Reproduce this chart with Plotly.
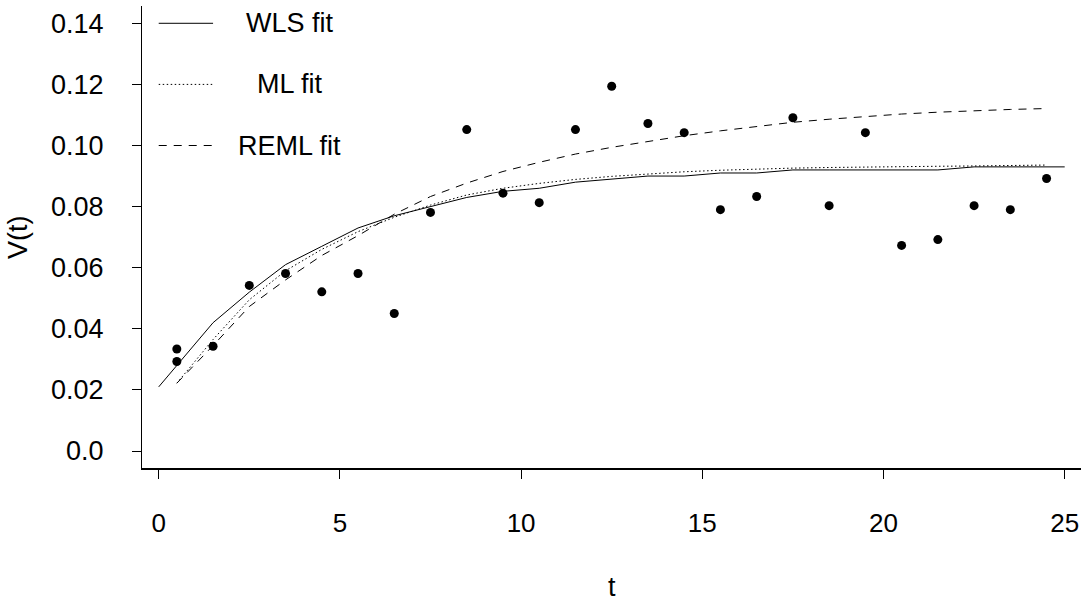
import plotly.graph_objects as go

# Observed data
obs_t = [0.5, 0.5, 1.5, 2.5, 3.5, 4.5, 5.5, 6.5, 7.5, 8.5, 9.5, 10.5, 11.5, 12.5,
         13.5, 14.5, 15.5, 16.5, 17.5, 18.5, 19.5, 20.5, 21.5, 22.5, 23.5, 24.5]
obs_v = [0.0334, 0.0293, 0.0343, 0.0542, 0.0581, 0.0521, 0.0581, 0.0450, 0.0781,
         0.1052, 0.0844, 0.0813, 0.1052, 0.1194, 0.1072, 0.1042, 0.0790, 0.0833,
         0.1091, 0.0803, 0.1042, 0.0673, 0.0692, 0.0803, 0.0790, 0.0892]

# WLS fit
wls_t = [0, 0.5, 1.5, 2.5, 3.5, 4.5, 5.5, 6.5, 7.5, 8.5, 9.5, 10.5, 11.5, 12.5,
         13.5, 14.5, 15.5, 16.5, 17.5, 18.5, 19.5, 20.5, 21.5, 22.5, 23.5, 24.5, 25]
wls_v = [0.021, 0.028, 0.042, 0.052, 0.061, 0.067, 0.073, 0.077, 0.080, 0.083,
         0.085, 0.086, 0.088, 0.089, 0.090, 0.090, 0.091, 0.091, 0.092, 0.092,
         0.092, 0.092, 0.092, 0.093, 0.093, 0.093, 0.093]

# ML fit
fit_t = [0.5, 1.5, 2.5, 3.5, 4.5, 5.5, 6.5, 7.5, 8.5, 9.5, 10.5, 11.5, 12.5,
         13.5, 14.5, 15.5, 16.5, 17.5, 18.5, 19.5, 20.5, 21.5, 22.5, 23.5, 24.5]
ml_v = [0.0222, 0.0365, 0.0495, 0.0590, 0.0660, 0.0718, 0.0765, 0.0805, 0.0838,
        0.0860, 0.0876, 0.0889, 0.0899, 0.0907, 0.0914, 0.0919, 0.0923, 0.0926,
        0.0928, 0.0930, 0.0931, 0.0932, 0.0933, 0.0934, 0.0936]

# REML fit
reml_v = [0.0222, 0.0345, 0.0473, 0.0560, 0.0640, 0.0705, 0.0775, 0.0833, 0.0877,
          0.0915, 0.0945, 0.0972, 0.0994, 0.1013, 0.1032, 0.1048, 0.1063, 0.1076,
          0.1086, 0.1095, 0.1103, 0.1109, 0.1114, 0.1118, 0.1121]

x_ticks = [0, 5, 10, 15, 20, 25]
y_ticks = [0.0, 0.02, 0.04, 0.06, 0.08, 0.10, 0.12, 0.14]
y_tick_text = ["0.0", "0.02", "0.04", "0.06", "0.08", "0.10", "0.12", "0.14"]

legend_labels = ["WLS fit", "ML fit", "REML fit"]
legend_dash = ["solid", "1.5px,2.5px", "8px,7px"]
legend_y = [0.14, 0.12, 0.10]

FONT = "Liberation Sans, Arial, Helvetica, sans-serif"

fig = go.Figure()
fig.add_trace(go.Scatter(x=wls_t, y=wls_v, mode="lines",
                         line=dict(color="black", width=1, dash="solid"),
                         showlegend=False))
fig.add_trace(go.Scatter(x=fit_t, y=ml_v, mode="lines",
                         line=dict(color="black", width=1, dash="1.5px,2.5px"),
                         showlegend=False))
fig.add_trace(go.Scatter(x=fit_t, y=reml_v, mode="lines",
                         line=dict(color="black", width=1, dash="8px,7px"),
                         showlegend=False))
fig.add_trace(go.Scatter(x=obs_t, y=obs_v, mode="markers",
                         marker=dict(color="black", size=9, line=dict(width=0)),
                         showlegend=False))

# Legend (drawn manually to match base-R layout)
for lab, dsh, ly in zip(legend_labels, legend_dash, legend_y):
    fig.add_trace(go.Scatter(x=[0, 1.5], y=[ly, ly], mode="lines",
                             line=dict(color="black", width=1, dash=dsh),
                             showlegend=False, hoverinfo="skip"))
    fig.add_annotation(x=3.62, y=ly, text=lab, showarrow=False,
                       xanchor="center", yanchor="middle",
                       font=dict(family=FONT, size=27, color="black"))

# Axis titles
fig.add_annotation(xref="paper", yref="paper", x=0.5, y=0, yshift=-119,
                   text="t", showarrow=False, xanchor="center", yanchor="middle",
                   font=dict(family=FONT, size=27, color="black"))
fig.add_annotation(xref="paper", yref="paper", x=0, y=0.5, xshift=-124,
                   text="V(t)", showarrow=False, xanchor="center", yanchor="middle",
                   textangle=-90,
                   font=dict(family=FONT, size=27, color="black"))

fig.update_layout(
    width=1086, height=602,
    margin=dict(l=142, r=5, t=6, b=134),
    paper_bgcolor="white", plot_bgcolor="white",
    font=dict(family=FONT, size=26, color="black"),
    showlegend=False,
)
fig.update_xaxes(range=[-0.461, 25.45], tickvals=x_ticks, ticks="outside",
                 ticklen=9, tickwidth=1, tickcolor="black",
                 showline=True, linecolor="black", linewidth=1.5,
                 showgrid=False, zeroline=False, ticklabelstandoff=22,
                 tickfont=dict(family=FONT, size=26, color="black"))
fig.update_yaxes(range=[-0.00556, 0.14566], tickvals=y_ticks, ticktext=y_tick_text,
                 ticks="outside", ticklen=9, tickwidth=1, tickcolor="black",
                 showline=True, linecolor="black", linewidth=1,
                 showgrid=False, zeroline=False, ticklabelstandoff=23,
                 tickfont=dict(family=FONT, size=27, color="black"))

fig.write_html("out.html")
